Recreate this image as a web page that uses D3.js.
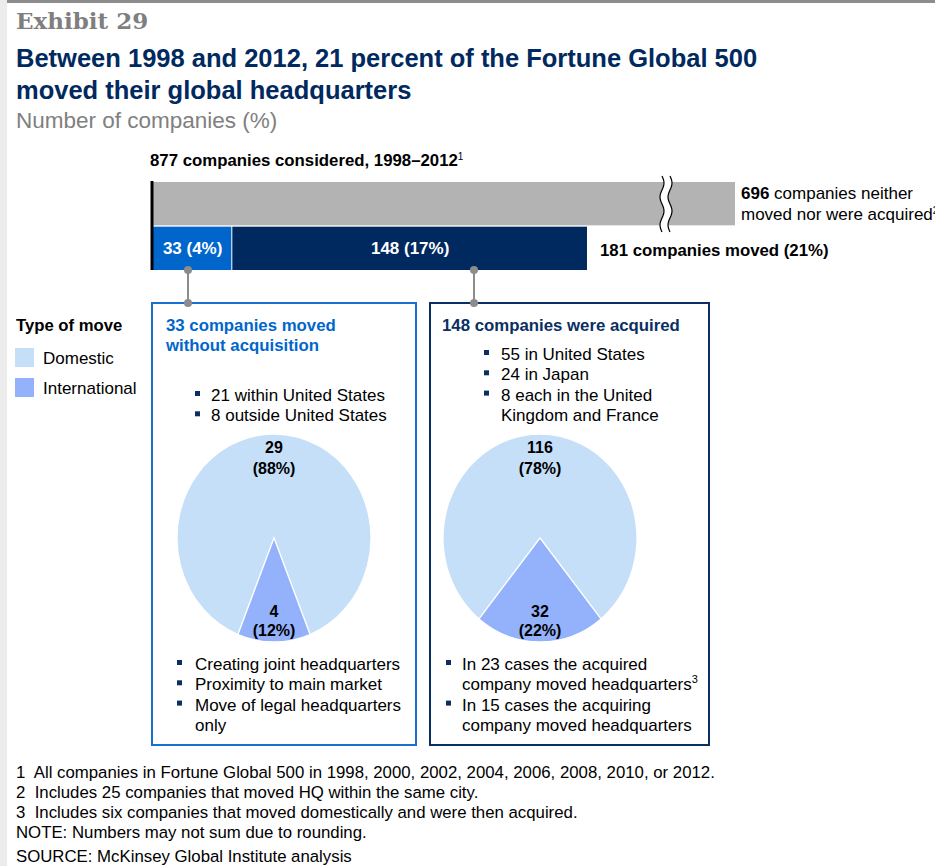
<!DOCTYPE html>
<html>
<head>
<meta charset="utf-8">
<script src="https://cdn.jsdelivr.net/npm/d3@7"></script>
<style>
  body { margin: 0; background: #fff; }
  text { font-family: "Liberation Sans", Arial, sans-serif; }
</style>
</head>
<body>
<div id="chart"></div>
<script>
//
// Data
//
var totalCompanies = 877,
    barRows   = ["all", "moved"],
    movedCats = ["without", "acquired"],
    movedVals = [33, 148],
    movedPct  = ["4%", "17%"],
    stayVal   = 696;

var pieCats  = ["Domestic", "International"],
    pieLeft  = [29, 4],
    pieLeftPct  = ["88%", "12%"],
    pieRight = [116, 32],
    pieRightPct = ["78%", "22%"];

var colors = {
    gray: "#b3b3b3",
    without: "#0066cc",
    acquired: "#002960",
    Domestic: "#c6dff8",
    International: "#94b2fb"
};

var bulletsTopLeft  = ["21 within United States", "8 outside United States"],
    bulletsTopRight = [["55 in United States"], ["24 in Japan"], ["8 each in the United", "Kingdom and France"]],
    bulletsBotLeft  = [["Creating joint headquarters"], ["Proximity to main market"], ["Move of legal headquarters", "only"]],
    bulletsBotRight = [["In 23 cases the acquired", "company moved headquarters³"], ["In 15 cases the acquiring", "company moved headquarters"]];

var footnotes = [
    "1  All companies in Fortune Global 500 in 1998, 2000, 2002, 2004, 2006, 2008, 2010, or 2012.",
    "2  Includes 25 companies that moved HQ within the same city.",
    "3  Includes six companies that moved domestically and were then acquired.",
    "NOTE: Numbers may not sum due to rounding.",
    "SOURCE: McKinsey Global Institute analysis"
];

var width = 935, height = 866;

var svg = d3.select("#chart").append("svg")
    .attr("width", width)
    .attr("height", height);

// page frame
svg.append("rect").attr("x", 0).attr("y", 0).attr("width", 7).attr("height", height).attr("fill", "#ececec");
svg.append("rect").attr("x", 7).attr("y", 0).attr("width", width - 7).attr("height", 3).attr("fill", "#8c8c8c");

//
// Titles
//
svg.append("text").attr("x", 16).attr("y", 29)
    .style("font-family", "'DejaVu Serif', serif")
    .style("font-weight", "bold").style("font-size", "23px").attr("fill", "#7f7f7f")
    .text("Exhibit 29");
svg.append("text").attr("x", 16).attr("y", 67)
    .style("font-weight", "bold").style("font-size", "25.5px").attr("fill", "#002960")
    .text("Between 1998 and 2012, 21 percent of the Fortune Global 500");
svg.append("text").attr("x", 16).attr("y", 99)
    .style("font-weight", "bold").style("font-size", "25.5px").attr("fill", "#002960")
    .text("moved their global headquarters");
svg.append("text").attr("x", 16).attr("y", 128)
    .style("font-size", "22.5px").attr("fill", "#808080")
    .text("Number of companies (%)");

//
// Stacked bar with a break
//
var movedTotal = d3.sum(movedVals);
var x = d3.scaleLinear()
    .domain([0, movedTotal, totalCompanies])
    .range([153, 588, 735]);     // broken axis: the rest is compressed
var y = d3.scaleBand().domain(barRows).range([182, 270]).paddingInner(0.03);

var hdr = svg.append("text").attr("x", 150).attr("y", 166)
    .style("font-weight", "bold").style("font-size", "16.8px").attr("fill", "#000");
hdr.append("tspan").text("877 companies considered, 1998–2012");
hdr.append("tspan").attr("dy", -6).style("font-size", "10px").style("font-weight", "normal").text("1");

svg.append("rect")
    .attr("x", x(0)).attr("y", y("all"))
    .attr("width", x(totalCompanies) - x(0)).attr("height", y.bandwidth())
    .attr("fill", colors.gray);

var stack = d3.stack().keys(movedCats)([{ without: movedVals[0], acquired: movedVals[1] }]);
var segs = svg.append("g").selectAll("g")
    .data(stack).enter().append("g");
segs.append("rect")
    .attr("x", function(d) { return x(d[0][0]); })
    .attr("y", y("moved"))
    .attr("width", function(d) { return x(d[0][1]) - x(d[0][0]) - 1; })
    .attr("height", y.bandwidth())
    .attr("fill", function(d) { return colors[d.key]; });
segs.append("text")
    .attr("x", function(d) { return (x(d[0][0]) + x(d[0][1])) / 2; })
    .attr("y", y("moved") + y.bandwidth() / 2 + 6)
    .attr("text-anchor", "middle")
    .style("font-weight", "bold").style("font-size", "17px").attr("fill", "#fff")
    .text(function(d, i) { return movedVals[i] + " (" + movedPct[i] + ")"; });

// baseline
svg.append("line").attr("x1", 152).attr("x2", 152)
    .attr("y1", y("all") - 1).attr("y2", y("moved") + y.bandwidth())
    .attr("stroke", "#000").attr("stroke-width", 3);

// break marks
var bx = x(totalCompanies) - 69;
function wave(x0) {
    var pts = [];
    for (var yy = 176; yy <= 232; yy += 2) {
        pts.push([x0 + 2 * Math.sin((yy - 176) / 56 * Math.PI * 4), yy]);
    }
    return pts;
}
var wl = d3.line();
var w1 = wave(bx - 4), w2 = wave(bx + 4);
svg.append("path")
    .attr("d", wl(w1.concat(w2.slice().reverse())) + "Z")
    .attr("fill", "#fff");
svg.append("path").attr("d", wl(w1)).attr("fill", "none").attr("stroke", "#000").attr("stroke-width", 1.2);
svg.append("path").attr("d", wl(w2)).attr("fill", "none").attr("stroke", "#000").attr("stroke-width", 1.2);

var stayT = svg.append("text").attr("x", 741).attr("y", 199)
    .style("font-size", "17px").attr("fill", "#000");
stayT.append("tspan").style("font-weight", "bold").text(stayVal);
stayT.append("tspan").text(" companies neither");
var stayT2 = svg.append("text").attr("x", 741).attr("y", 220)
    .style("font-size", "17px").attr("fill", "#000");
stayT2.append("tspan").text("moved nor were acquired");
stayT2.append("tspan").attr("dy", -6).style("font-size", "10px").text("2");

svg.append("text").attr("x", 600).attr("y", 256)
    .style("font-weight", "bold").style("font-size", "16.8px").attr("fill", "#000")
    .text(movedTotal + " companies moved (21%)");

//
// Boxes
//
var boxes = [
    { x0: 152, x1: 416, stroke: "#1a70d0", conn: 188 },
    { x0: 430, x1: 709, stroke: "#0b2f63", conn: 474 }
];
var boxTop = 303, boxBot = 745;

boxes.forEach(function(b) {
    svg.append("rect").attr("x", b.x0).attr("y", boxTop)
        .attr("width", b.x1 - b.x0).attr("height", boxBot - boxTop)
        .attr("fill", "none").attr("stroke", b.stroke).attr("stroke-width", 2);
    svg.append("line").attr("x1", b.conn).attr("x2", b.conn)
        .attr("y1", y("moved") + y.bandwidth()).attr("y2", boxTop)
        .attr("stroke", "#8c8c8c").attr("stroke-width", 2);
    [y("moved") + y.bandwidth(), boxTop].forEach(function(cy) {
        svg.append("circle").attr("cx", b.conn).attr("cy", cy).attr("r", 4).attr("fill", "#8c8c8c");
    });
});

svg.append("text").attr("x", 166).attr("y", 331)
    .style("font-weight", "bold").style("font-size", "16.8px").attr("fill", "#0066cc")
    .text("33 companies moved");
svg.append("text").attr("x", 166).attr("y", 351)
    .style("font-weight", "bold").style("font-size", "16.8px").attr("fill", "#0066cc")
    .text("without acquisition");
svg.append("text").attr("x", 442).attr("y", 331)
    .style("font-weight", "bold").style("font-size", "16.8px").attr("fill", "#0b2f63")
    .text("148 companies were acquired");

// bullet lists
function bulletList(items, bx, tx, y0) {
    var yy = y0;
    items.forEach(function(lines) {
        if (typeof lines === "string") lines = [lines];
        svg.append("rect").attr("x", bx).attr("y", yy - 10).attr("width", 5).attr("height", 5).attr("fill", "#0b2f63");
        lines.forEach(function(l) {
            var t = svg.append("text").attr("x", tx).attr("y", yy)
                .style("font-size", "17px").attr("fill", "#000");
            var m = l.match(/^(.*?)(³)$/);
            if (m) {
                t.append("tspan").text(m[1]);
                t.append("tspan").attr("dy", -7).style("font-size", "11px").text("3");
            } else {
                t.text(l);
            }
            yy += 20.3;
        });
    });
}
bulletList(bulletsTopLeft, 195, 211, 401);
bulletList(bulletsTopRight, 484, 501, 360);
bulletList(bulletsBotLeft, 177, 195, 670);
bulletList(bulletsBotRight, 446, 462, 670);

//
// Pies
//
var rx = 97, ry = 104;
var arc = d3.arc().innerRadius(0).outerRadius(rx);

function drawPie(cx, cy, vals, pcts) {
    var total = d3.sum(vals);
    var a = 2 * Math.PI * vals[1] / total;
    var pie = d3.pie().sort(null)
        .startAngle(Math.PI + a / 2)
        .endAngle(Math.PI + a / 2 + 2 * Math.PI);
    var g = svg.append("g").attr("transform", "translate(" + cx + "," + cy + ") scale(1," + (ry / rx) + ")");
    g.selectAll("path").data(pie(vals)).enter().append("path")
        .attr("d", arc)
        .attr("fill", function(d, i) { return colors[pieCats[i]]; })
        .attr("stroke", "#fff").attr("stroke-width", 1.2);
    var labY = [[cy - 85, cy - 64], [cy + 79, cy + 98]];
    vals.forEach(function(v, i) {
        svg.append("text").attr("x", cx).attr("y", labY[i][0]).attr("text-anchor", "middle")
            .style("font-weight", "bold").style("font-size", "16px").attr("fill", "#000").text(v);
        svg.append("text").attr("x", cx).attr("y", labY[i][1]).attr("text-anchor", "middle")
            .style("font-weight", "bold").style("font-size", "16px").attr("fill", "#000").text("(" + pcts[i] + ")");
    });
}
drawPie(274, 538, pieLeft, pieLeftPct);
drawPie(540, 538, pieRight, pieRightPct);

//
// Legend
//
svg.append("text").attr("x", 16).attr("y", 331)
    .style("font-weight", "bold").style("font-size", "16.7px").attr("fill", "#000")
    .text("Type of move");
pieCats.forEach(function(c, i) {
    svg.append("rect").attr("x", 15).attr("y", 348 + i * 30).attr("width", 19).attr("height", 19)
        .attr("fill", colors[c]);
    svg.append("text").attr("x", 43).attr("y", 364 + i * 30)
        .style("font-size", "17px").attr("fill", "#000").text(c);
});

//
// Footnotes
//
footnotes.forEach(function(f, i) {
    svg.append("text").attr("x", 16).attr("y", 778 + i * 20 + (i == 4 ? 4 : 0))
        .style("font-size", "16.8px").style("white-space", "pre").attr("fill", "#000").text(f);
});
</script>
</body>
</html>
